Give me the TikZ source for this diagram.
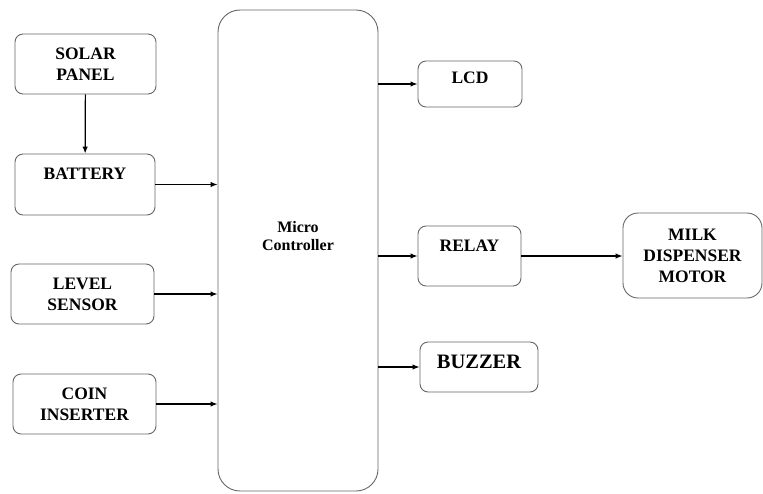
\documentclass[tikz,border=0pt]{standalone}
\usepackage{fontspec}
\setmainfont{Liberation Serif}
\usepackage{tikz}
\usetikzlibrary{positioning,arrows.meta}

\begin{document}
\begin{tikzpicture}[x=1pt, y=-1pt,
  blk/.style={draw=black!60, line width=0.9pt, rounded corners=8pt, align=center,
    inner sep=0pt, font=\fontsize{17.5}{21}\selectfont\bfseries},
  link/.style={line width=1.2pt, -{Latex[length=7pt,width=5.5pt]}}]
\useasboundingbox (0,0) rectangle (763,493);
% inputs
\node[blk, minimum width=141pt, minimum height=60pt] (solar) at (85.5,64) {SOLAR\\PANEL};
\node[blk, minimum width=140pt, minimum height=61pt] (bat) at (85,184.5) {BATTERY\\\mbox{}};
\node[blk, minimum width=143pt, minimum height=60pt] (level) at (82.5,294) {LEVEL\\SENSOR};
\node[blk, minimum width=143pt, minimum height=60pt] (coin) at (84.5,404) {COIN\\INSERTER};
% controller
\node[blk, rounded corners=22pt, minimum width=160pt, minimum height=481pt,
  font=\fontsize{16}{18}\selectfont\bfseries] (mc) at (298,250.5) {Micro\\Controller\\[12pt]\mbox{}};
% outputs
\node[blk, minimum width=104pt, minimum height=46pt] (lcd) at (470,84) {LCD\\[-8pt]\mbox{}};
\node[blk, minimum width=103pt, minimum height=60pt] (relay) at (469.5,256) {RELAY\\\mbox{}};
\node[blk, minimum width=118pt, minimum height=50pt, font=\fontsize{20.5}{22}\selectfont\bfseries] (buzz) at (479,367) {BUZZER\\[-12pt]\mbox{}};
\node[blk, rounded corners=15pt, minimum width=139pt, minimum height=85pt] (motor) at (692.5,255.5) {MILK\\DISPENSER\\MOTOR};
% connectors
\draw[link] (solar) -- (bat);
\draw[link] (bat.east) -- (bat.east -| mc.west);
\draw[link] (level.east) -- (level.east -| mc.west);
\draw[link] (coin.east) -- (coin.east -| mc.west);
\draw[link] (mc.east |- lcd.west) -- (lcd.west);
\draw[link] (mc.east |- relay.west) -- (relay.west);
\draw[link] (mc.east |- buzz.west) -- (buzz.west);
\draw[link] (relay.east) -- (relay.east -| motor.west);
\end{tikzpicture}
\end{document}
